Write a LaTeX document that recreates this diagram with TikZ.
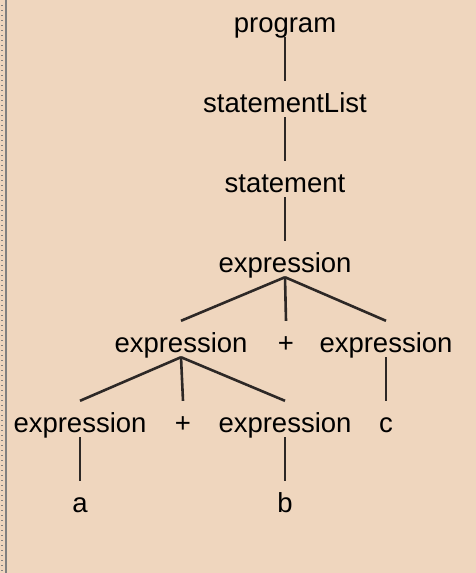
\documentclass[tikz,border=0pt]{standalone}
\usepackage{fontspec}
\setmainfont{Liberation Sans}
\definecolor{bgc}{RGB}{239,214,190}
\definecolor{edgec}{RGB}{45,40,38}
\definecolor{borderc}{RGB}{128,128,128}
\begin{document}
\begin{tikzpicture}[x=1pt,y=-1pt,
  lbl/.style={anchor=base,inner sep=0pt,text height=31pt,text depth=5pt,font=\fontsize{27.5}{32}\selectfont},
  edge/.style={draw=edgec,line width=2.6pt}]
\fill[bgc] (0,0) rectangle (476,573);
\useasboundingbox (0,0) rectangle (476,573);
\draw[borderc,line width=2pt] (6,0) -- (6,573);
\foreach \yy in {5,10,...,570} \draw[borderc,line width=1pt] (1,\yy) -- (3,\yy);
% nodes
\node[lbl] (prog) at (285,32) {program};
\node[lbl] (slist) at (285,112) {statementList};
\node[lbl] (stmt) at (285,192) {statement};
\node[lbl] (e0) at (285,272) {expression};
\node[lbl] (e1) at (181,352) {expression};
\node[lbl] (p1) at (286,352) {+};
\node[lbl] (e2) at (386,352) {expression};
\node[lbl] (e3) at (80,432) {expression};
\node[lbl] (p2) at (183,432) {+};
\node[lbl] (e4) at (285,432) {expression};
\node[lbl] (c) at (386,432) {c};
\node[lbl] (a) at (80,512) {a};
\node[lbl] (b) at (285,512) {b};
% edges
\draw[edge] (prog.south) -- (slist.north);
\draw[edge] (slist.south) -- (stmt.north);
\draw[edge] (stmt.south) -- (e0.north);
\draw[edge] (e0.south) -- (e1.north);
\draw[edge] (e0.south) -- (p1.north);
\draw[edge] (e0.south) -- (e2.north);
\draw[edge] (e1.south) -- (e3.north);
\draw[edge] (e1.south) -- (p2.north);
\draw[edge] (e1.south) -- (e4.north);
\draw[edge] (e2.south) -- (c.north);
\draw[edge] (e3.south) -- (a.north);
\draw[edge] (e4.south) -- (b.north);
\end{tikzpicture}
\end{document}
